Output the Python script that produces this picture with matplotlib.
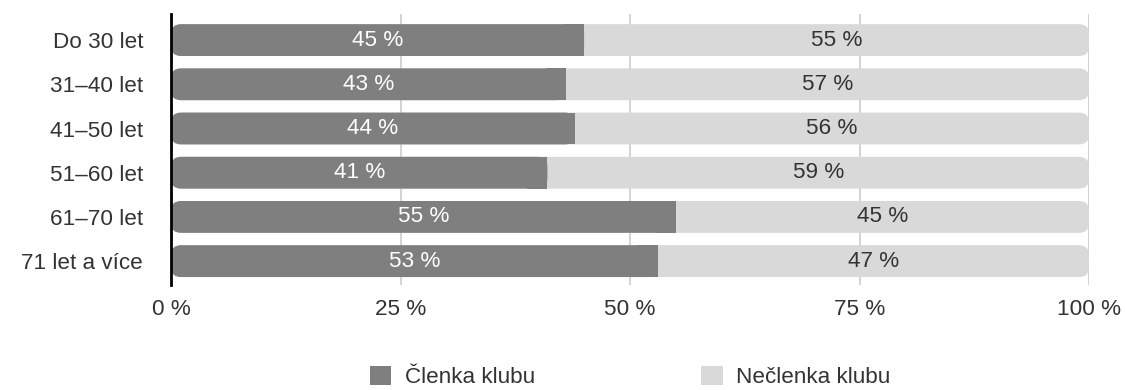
import numpy as np
import matplotlib.pyplot as plt
from matplotlib.patches import FancyBboxPatch, Rectangle, Patch

plt.rcParams['font.family'] = ['Liberation Sans', 'DejaVu Sans']

skupiny = ['Do 30 let', '31–40 let', '41–50 let', '51–60 let', '61–70 let', '71 let a více']
clenka = [45, 43, 44, 41, 55, 53]
neclenka = [55, 57, 56, 59, 45, 47]
ticky = [0, 25, 50, 75, 100]
tick_labely = ['0 %', '25 %', '50 %', '75 %', '100 %']

c_dark = '#7f7f7f'
c_light = '#d9d9d9'
c_text = '#333333'
fs = 16.2

fig = plt.figure(figsize=(11.25, 3.9), dpi=100)
ax = fig.add_axes([171/1125, 1 - 285/390, 918/1125, 271/390])

h = 0.72
rad = 1.1
asp = 0.2
for i, (a, b) in enumerate(zip(clenka, neclenka)):
    # whole bar in light grey, rounded both ends
    ax.add_patch(FancyBboxPatch((0, i - h/2), a + b, h,
                                boxstyle='round,pad=0,rounding_size=%g' % rad,
                                mutation_aspect=asp, fc=c_light, ec='none', zorder=2))
    # dark part rounded on the left, squared on the right
    ax.add_patch(FancyBboxPatch((0, i - h/2), a, h,
                                boxstyle='round,pad=0,rounding_size=%g' % rad,
                                mutation_aspect=asp, fc=c_dark, ec='none', zorder=3))
    ax.add_patch(Rectangle((a - 2*rad, i - h/2), 2*rad, h, fc=c_dark, ec='none', zorder=3))
    ax.text(a/2, i, '%d %%' % a, ha='center', va='center', color='white', fontsize=fs, zorder=4)
    ax.text(a + b/2, i, '%d %%' % b, ha='center', va='center', color=c_text, fontsize=fs, zorder=4)

ax.set_xlim(0, 100)
ax.set_ylim(5.54, -0.59)
ax.set_yticks(range(len(skupiny)))
ax.set_yticklabels(skupiny, fontsize=fs, color=c_text)
ax.set_xticks(ticky)
ax.set_xticklabels(tick_labely, fontsize=fs, color=c_text)
ax.tick_params(axis='y', length=0, pad=20)
ax.tick_params(axis='x', length=0, pad=10)
for s in ['top', 'right', 'bottom']:
    ax.spines[s].set_visible(False)
ax.spines['left'].set_linewidth(2)
ax.spines['left'].set_color('black')
ax.spines['left'].set_zorder(5)
for t in ticky[1:]:
    ax.axvline(t, color='#cccccc', lw=1.2, zorder=1)

handles = [Patch(fc=c_dark, ec='none'), Patch(fc=c_light, ec='none')]
fig.legend(handles, ['Členka klubu', 'Nečlenka klubu'], loc='center',
           bbox_to_anchor=(630/1125, 1 - 377/390), ncol=2, frameon=False,
           fontsize=fs, handlelength=0.95, handleheight=0.95,
           handletextpad=0.6, columnspacing=7.4, labelcolor=c_text)

fig.savefig('out.png', dpi=100)
